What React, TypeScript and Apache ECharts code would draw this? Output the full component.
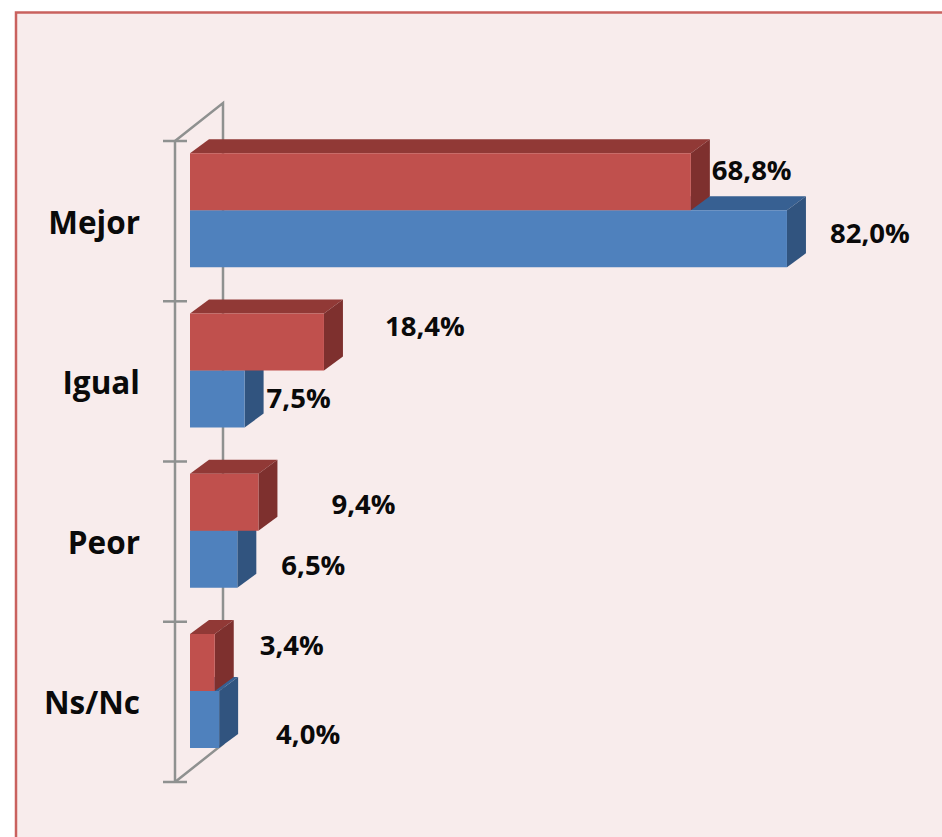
import React, { useEffect, useRef } from "react";
import * as echarts from "echarts";

const categories = ["Mejor", "Igual", "Peor", "Ns/Nc"];
const redValues = [68.8, 18.4, 9.4, 3.4];
const blueValues = [82.0, 7.5, 6.5, 4.0];

// distance of each data label from the end of its bar's front face
const redLabelShift = [[21, 16], [61, 12], [73, 30], [45, 11]];
const blueLabelShift = [[43, 22], [22, 27], [44, 34], [57, 43]];

const FONT = "'Open Sans', 'Noto Sans', sans-serif";
const GREY = "#8F9190";
const DEPTH_X = 19;
const DEPTH_Y = -14;
const WALL_X = 48;
const WALL_Y = -38;
const AXIS_GAP = 15;
const TICK = 12;

function barRenderer(
  values: number[],
  shifts: number[][],
  front: string,
  top: string,
  side: string,
  fromCentre: number
) {
  return (_params: any, api: any) => {
    const cat = api.value(0);
    const value = api.value(1);
    const [x0, c] = api.coord([0, cat]);
    const [x1] = api.coord([value, cat]);
    const band = api.size([0, 1])[1];
    const h = band * 0.356;
    const mid = c - band * 0.068;
    const y0 = fromCentre < 0 ? mid - h : mid;
    const y1 = y0 + h;
    const shift = shifts[cat];
    return {
      type: "group",
      children: [
        {
          type: "polygon",
          shape: { points: [[x0, y0], [x0 + DEPTH_X, y0 + DEPTH_Y], [x1 + DEPTH_X, y0 + DEPTH_Y], [x1, y0]] },
          style: { fill: top },
        },
        {
          type: "polygon",
          shape: { points: [[x1, y0], [x1 + DEPTH_X, y0 + DEPTH_Y], [x1 + DEPTH_X, y1 + DEPTH_Y], [x1, y1]] },
          style: { fill: side },
        },
        { type: "rect", shape: { x: x0, y: y0, width: x1 - x0, height: h }, style: { fill: front } },
        {
          type: "text",
          style: {
            x: x1 + shift[0],
            y: y0 + shift[1],
            text: values[cat].toFixed(1).replace(".", ",") + "%",
            font: `bold 27.5px ${FONT}`,
            fill: "#0a0a0a",
            textAlign: "left",
            textVerticalAlign: "middle",
          },
        },
      ],
    };
  };
}

function wallRenderer(params: any) {
  const { x, y, height } = params.coordSys;
  const ax = x - AXIS_GAP;
  const line = (points: number[][]) => ({
    type: "polyline",
    shape: { points },
    style: { fill: "none", stroke: GREY, lineWidth: 2.5 },
  });
  const ticks = [];
  for (let i = 0; i <= categories.length; i++) {
    const ty = y + (height * i) / categories.length;
    ticks.push(line([[ax - TICK, ty], [ax + TICK, ty]]));
  }
  return {
    type: "group",
    children: [
      line([[ax, y], [ax + WALL_X, y + WALL_Y], [ax + WALL_X, y + height + WALL_Y], [ax, y + height]]),
      line([[ax, y], [ax, y + height]]),
      ...ticks,
    ],
  };
}

export default function App() {
  const ref = useRef<HTMLDivElement>(null);
  useEffect(() => {
    document.body.style.margin = "0";
    document.body.style.background = "#fff";
    const chart = echarts.init(ref.current!, null, { renderer: "svg" });
    chart.setOption({
      animation: false,
      backgroundColor: "#ffffff",
      graphic: [
        {
          type: "rect",
          z: -10,
          shape: { x: 16, y: 12.5, width: 940, height: 840 },
          style: { fill: "#F8ECEC", stroke: "#C9615E", lineWidth: 2.5 },
        },
      ],
      grid: { left: 190, top: 141, width: 728, height: 641 },
      xAxis: { type: "value", min: 0, max: 100, show: false },
      yAxis: {
        type: "category",
        data: categories,
        inverse: true,
        axisLine: { show: false },
        axisTick: { show: false },
        axisLabel: {
          margin: 50,
          fontFamily: FONT,
          fontWeight: "bold",
          fontSize: 31.5,
          color: "#0a0a0a",
          padding: [6, 0, 0, 0],
        },
        splitLine: { show: false },
      },
      series: [
        {
          type: "custom",
          name: "Pared",
          renderItem: wallRenderer,
          data: [[0, 0]],
          silent: true,
          z: 1,
        },
        {
          type: "custom",
          name: "Azul",
          renderItem: barRenderer(blueValues, blueLabelShift, "#4F81BD", "#376092", "#31547F", 1),
          encode: { x: 1, y: 0 },
          data: blueValues.map((v, i) => [i, v]),
          z: 2,
        },
        {
          type: "custom",
          name: "Rojo",
          renderItem: barRenderer(redValues, redLabelShift, "#C0504D", "#913936", "#7E302E", -1),
          encode: { x: 1, y: 0 },
          data: redValues.map((v, i) => [i, v]),
          z: 3,
        },
      ],
    });
    return () => chart.dispose();
  }, []);
  return <div ref={ref} style={{ width: 942, height: 837 }} />;
}
